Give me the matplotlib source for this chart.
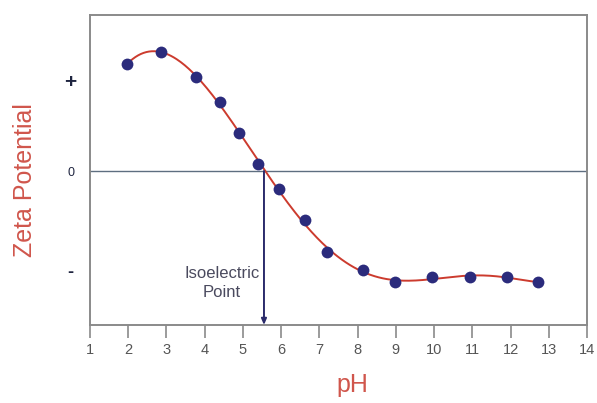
import numpy as np
import matplotlib.pyplot as plt

plt.rcParams['font.family'] = ['Liberation Sans', 'DejaVu Sans']

# -----------------------------
# Data
# -----------------------------
ph = [1.97, 2.86, 3.77, 4.40, 4.90, 5.39, 5.94, 6.62, 7.20, 8.14, 8.98, 9.95, 10.94, 11.91, 12.72]
zeta = [1.07, 1.19, 0.94, 0.69, 0.38, 0.07, -0.18, -0.49, -0.81, -0.99, -1.11, -1.06, -1.06, -1.06, -1.11]

isoelectric_ph = 5.55
x_ticks = list(range(1, 15))
y_tick_pos = [0.91, 0.0, -0.99]
y_tick_labels = ["+", "0", "-"]

# -----------------------------
# Figure
# -----------------------------
fig = plt.figure(figsize=(5.97, 4.03), dpi=100)
ax = fig.add_axes([0.1508, 0.1935, 0.8325, 0.7692])

# trendline through the measured points
coef = np.polyfit(ph, zeta, 7)
xs = np.linspace(min(ph), max(ph), 300)
ax.plot(xs, np.polyval(coef, xs), color="#cc3b2e", lw=1.4, zorder=2)

ax.plot(ph, zeta, "o", color="#2b2b7c", markersize=8.5, markeredgewidth=0, zorder=3)

ax.axhline(0, color="#5e6e80", lw=1.0, zorder=1)

# isoelectric point marker
ax.annotate("", xy=(isoelectric_ph, -1.54), xytext=(isoelectric_ph, 0),
            arrowprops=dict(arrowstyle="-|>,head_length=0.35,head_width=0.15",
                            color="#2b2b6b", lw=1.4, shrinkA=0, shrinkB=0),
            zorder=4)
ax.text(isoelectric_ph - 1.1, -1.12, "Isoelectric\nPoint", ha="center", va="center",
        fontsize=12, color="#4a4a5e", linespacing=1.35)

ax.set_xlim(1, 14)
ax.set_ylim(-1.54, 1.56)
ax.set_xticks(x_ticks)
ax.tick_params(axis="x", direction="out", length=9, width=1.2, color="#8a8a8a",
               labelsize=10.5, labelcolor="#555555", pad=4)
ax.set_yticks(y_tick_pos)
ax.set_yticklabels(y_tick_labels)
ax.tick_params(axis="y", length=0, pad=14, labelsize=9, labelcolor="#1f2540")
ylabs = ax.get_yticklabels()
for lab in ylabs:
    lab.set_horizontalalignment("center")
ylabs[0].set_fontsize(15)
ylabs[0].set_fontweight("bold")
ylabs[2].set_fontsize(13)
ylabs[2].set_fontweight("bold")

for sp in ax.spines.values():
    sp.set_color("#8a8a8a")
    sp.set_linewidth(1.4)

fig.text(0.59, 0.045, "pH", ha="center", va="center", fontsize=18, color="#d0564c")
fig.text(0.042, 0.553, "Zeta Potential", ha="center", va="center", rotation=90,
         fontsize=18, color="#d0564c")

fig.savefig("out.png", dpi=100)
